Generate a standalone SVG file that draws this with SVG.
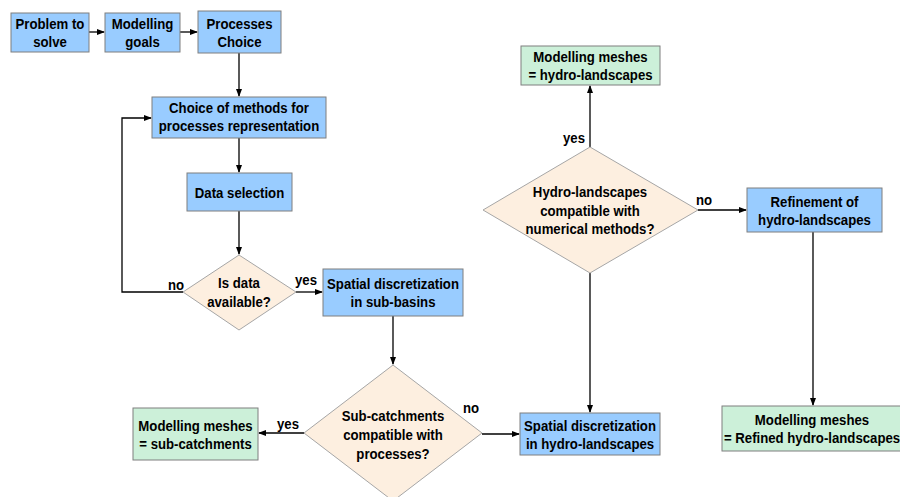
<svg xmlns="http://www.w3.org/2000/svg" width="900" height="497" viewBox="0 0 900 497">
<defs>
<marker id="ah" markerWidth="8" markerHeight="6" refX="7" refY="3" orient="auto" markerUnits="userSpaceOnUse">
<path d="M0,0 L8,3 L0,6 z" fill="#000"/>
</marker>
<style>
.b{fill:#99ccff;stroke:#7f7f7f;stroke-width:1}
.g{fill:#ccf0d9;stroke:#7f7f7f;stroke-width:1}
.d{fill:#fdefe0;stroke:#a6a6a6;stroke-width:1}
text{font-family:"Liberation Sans",Arial,sans-serif;font-weight:bold;font-size:15px;fill:#000}
.c{text-anchor:middle}
.l{fill:none;stroke:#000;stroke-width:1.3}
</style>
</defs>
<g id="connectors">
<path class="l" d="M89,32 H104" marker-end="url(#ah)"/>
<path class="l" d="M180,32 H197" marker-end="url(#ah)"/>
<path class="l" d="M239,53 V96" marker-end="url(#ah)"/>
<path class="l" d="M239,138 V172" marker-end="url(#ah)"/>
<path class="l" d="M239,211 V254" marker-end="url(#ah)"/>
<path class="l" d="M183,292 H122 V118 H151" marker-end="url(#ah)"/>
<path class="l" d="M296,292 H322" marker-end="url(#ah)"/>
<path class="l" d="M393,316 V364" marker-end="url(#ah)"/>
<path class="l" d="M304,433 H259" marker-end="url(#ah)"/>
<path class="l" d="M482,434 H519" marker-end="url(#ah)"/>
<path class="l" d="M590,273 V412" marker-end="url(#ah)"/>
<path class="l" d="M590,147 V86" marker-end="url(#ah)"/>
<path class="l" d="M698,210 H746" marker-end="url(#ah)"/>
<path class="l" d="M813,232 V405" marker-end="url(#ah)"/>
<text transform="matrix(0.88 0 0 1 168 290)">no</text>
<text transform="matrix(0.88 0 0 1 295 285)">yes</text>
<text transform="matrix(0.88 0 0 1 277 429)">yes</text>
<text transform="matrix(0.88 0 0 1 463 413)">no</text>
<text transform="matrix(0.88 0 0 1 563 143)">yes</text>
<text transform="matrix(0.88 0 0 1 696 205)">no</text>
</g>
<g id="problem">
<rect class="b" x="11" y="13" width="78" height="39"/>
<text class="c" transform="matrix(0.88 0 0 1 50 29)">Problem to</text>
<text class="c" transform="matrix(0.88 0 0 1 50 47)">solve</text>
</g>
<g id="goals">
<rect class="b" x="105" y="13" width="75" height="39"/>
<text class="c" transform="matrix(0.88 0 0 1 142.5 29)">Modelling</text>
<text class="c" transform="matrix(0.88 0 0 1 142.5 47)">goals</text>
</g>
<g id="processes">
<rect class="b" x="198" y="11" width="83" height="42"/>
<text class="c" transform="matrix(0.88 0 0 1 239.5 28.5)">Processes</text>
<text class="c" transform="matrix(0.88 0 0 1 239.5 46.5)">Choice</text>
</g>
<g id="methods">
<rect class="b" x="152" y="97" width="174" height="41"/>
<text class="c" transform="matrix(0.88 0 0 1 239 113)">Choice of methods for</text>
<text class="c" transform="matrix(0.88 0 0 1 239 131)">processes representation</text>
</g>
<g id="data">
<rect class="b" x="187" y="173" width="105" height="38"/>
<text class="c" transform="matrix(0.88 0 0 1 239.5 197.5)">Data selection</text>
</g>
<g id="available">
<polygon class="d" points="239,255 296,292 239,330 183,292"/>
<text class="c" transform="matrix(0.88 0 0 1 239 288)">Is data</text>
<text class="c" transform="matrix(0.88 0 0 1 239 307)">available?</text>
</g>
<g id="subbasins">
<rect class="b" x="323" y="269" width="140" height="47"/>
<text class="c" transform="matrix(0.88 0 0 1 393 289)">Spatial discretization</text>
<text class="c" transform="matrix(0.88 0 0 1 393 307)">in sub-basins</text>
</g>
<g id="subcatch-compat">
<polygon class="d" points="393,365 482,433 393,501 304,433"/>
<text class="c" transform="matrix(0.88 0 0 1 393 421)">Sub-catchments</text>
<text class="c" transform="matrix(0.88 0 0 1 393 440)">compatible with</text>
<text class="c" transform="matrix(0.88 0 0 1 393 459)">processes?</text>
</g>
<g id="mesh-subcatch">
<rect class="g" x="133" y="408" width="125" height="52"/>
<text class="c" transform="matrix(0.88 0 0 1 195.5 430.5)">Modelling meshes</text>
<text class="c" transform="matrix(0.88 0 0 1 195.5 448.5)">= sub-catchments</text>
</g>
<g id="hydro">
<rect class="b" x="520" y="413" width="140" height="42"/>
<text class="c" transform="matrix(0.88 0 0 1 590 430.5)">Spatial discretization</text>
<text class="c" transform="matrix(0.88 0 0 1 590 448.5)">in hydro-landscapes</text>
</g>
<g id="hydro-compat">
<polygon class="d" points="590,147 698,210 590,273 483,210"/>
<text class="c" transform="matrix(0.88 0 0 1 590 197)">Hydro-landscapes</text>
<text class="c" transform="matrix(0.88 0 0 1 590 216)">compatible with</text>
<text class="c" transform="matrix(0.88 0 0 1 590 234)">numerical methods?</text>
</g>
<g id="mesh-hydro">
<rect class="g" x="521" y="46" width="139" height="39"/>
<text class="c" transform="matrix(0.88 0 0 1 590.5 62)">Modelling meshes</text>
<text class="c" transform="matrix(0.88 0 0 1 590.5 80)">= hydro-landscapes</text>
</g>
<g id="refinement">
<rect class="b" x="747" y="188" width="135" height="44"/>
<text class="c" transform="matrix(0.88 0 0 1 814.5 206.5)">Refinement of</text>
<text class="c" transform="matrix(0.88 0 0 1 814.5 224.5)">hydro-landscapes</text>
</g>
<g id="mesh-refined">
<rect class="g" x="722" y="406" width="182" height="45"/>
<text class="c" transform="matrix(0.88 0 0 1 812 425)">Modelling meshes</text>
<text class="c" transform="matrix(0.88 0 0 1 812 443)">= Refined hydro-landscapes</text>
</g>
</svg>
